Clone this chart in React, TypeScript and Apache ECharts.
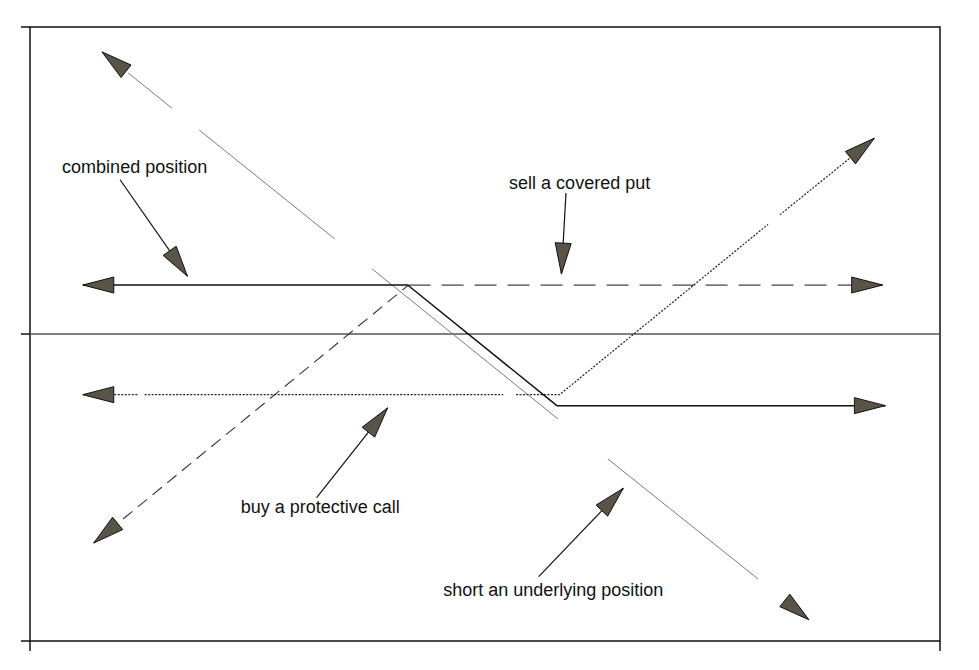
import React, { useEffect, useRef } from 'react';
import * as echarts from 'echarts';

// axis ranges (price on x, profit / loss on y)
const xRange = [0, 100];
const yRange = [-42, 42];

// payoff lines
const shortUnderlyingSegments = [
  [[10.8, 35.7], [15.6, 30.9]],
  [[18.6, 27.9], [33.5, 13.0]],
  [[37.6, 8.9], [58.0, -11.6]],
  [[63.5, -17.1], [80.0, -33.5]],
];
const combinedPosition = [[5.8, 6.7], [41.5, 6.7], [57.9, -9.8], [94.0, -9.8]];
const coveredPutFlat = [[41.6, 6.7], [93.7, 6.7]];
const coveredPutSlope = [[7.0, -28.6], [41.6, 6.7]];
const protectiveCallSegments = [
  [[5.8, -8.3], [11.8, -8.3]],
  [[12.6, -8.3], [52.0, -8.3]],
  [[53.4, -8.3], [58.2, -8.3], [81.1, 15.0]],
  [[82.4, 16.3], [92.8, 26.8]],
];
const zeroLine = [[0, 0], [100, 0]];

// arrow heads: [tipX, tipY, fromX, fromY]
const lineArrowHeads = [
  [7.9, 38.6, 10.8, 35.7],
  [85.6, -39.1, 80.0, -33.5],
  [5.8, 6.7, 41.5, 6.7],
  [94.0, -9.8, 57.9, -9.8],
  [93.7, 6.7, 41.6, 6.7],
  [7.0, -28.6, 41.6, 6.7],
  [5.8, -8.3, 58.2, -8.3],
  [92.8, 26.8, 58.2, -8.3],
];

// annotations
const labels = ['combined position', 'sell a covered put', 'buy a protective call', 'short an underlying position'];
const labelPos = [[11.5, 22.9], [60.4, 20.7], [31.9, -23.7], [57.5, -35.0]];
const pointerFrom = [[9.9, 21.1], [58.9, 19.3], [31.5, -22.4], [55.9, -33.2]];
const pointerTip = [[17.3, 7.9], [58.4, 8.2], [39.3, -10.1], [65.2, -21.1]];

const FONT = '"Liberation Sans", Arial, Helvetica, sans-serif';

function lineSeries(data: number[][], style: any, z = 3) {
  return {
    type: 'line',
    data,
    symbol: 'none',
    showSymbol: false,
    silent: true,
    animation: false,
    z,
    lineStyle: style,
  };
}

export default function App() {
  const ref = useRef<HTMLDivElement>(null);

  useEffect(() => {
    if (!ref.current) return;
    const chart = echarts.init(ref.current, null, { renderer: 'svg' });

    const shortStyle = { color: '#7a7a7a', width: 1 };
    const combinedStyle = { color: '#111', width: 1.5 };
    const putFlatStyle = { color: '#444', width: 1.3, type: [22, 11] };
    const putSlopeStyle = { color: '#333', width: 1.1, type: [12, 7] };
    const callStyle = { color: '#222', width: 1.2, type: [2, 1.5] };
    const pointerStyle = { color: '#111', width: 1.2 };

    const series: any[] = [];
    series.push(lineSeries(zeroLine, { color: '#555', width: 1.3 }, 2));
    shortUnderlyingSegments.forEach((s) => series.push(lineSeries(s, shortStyle)));
    series.push(lineSeries(combinedPosition, combinedStyle, 4));
    series.push(lineSeries(coveredPutFlat, putFlatStyle));
    series.push(lineSeries(coveredPutSlope, putSlopeStyle));
    protectiveCallSegments.forEach((s) => series.push(lineSeries(s, callStyle)));
    pointerFrom.forEach((f, i) => series.push(lineSeries([f, pointerTip[i]], pointerStyle)));

    const arrowData = [
      ...lineArrowHeads,
      ...pointerTip.map((t, i) => [t[0], t[1], pointerFrom[i][0], pointerFrom[i][1]]),
    ];

    series.push({
      type: 'custom',
      silent: true,
      clip: false,
      z: 10,
      data: arrowData,
      renderItem: (params: any, api: any) => {
        const tip = api.coord([api.value(0), api.value(1)]);
        const from = api.coord([api.value(2), api.value(3)]);
        const dx = tip[0] - from[0];
        const dy = tip[1] - from[1];
        const len = Math.hypot(dx, dy) || 1;
        const ux = dx / len;
        const uy = dy / len;
        const L = 31;
        const W = 16;
        const bx = tip[0] - ux * L;
        const by = tip[1] - uy * L;
        const nx = -uy * W / 2;
        const ny = ux * W / 2;
        return {
          type: 'polygon',
          shape: { points: [tip, [bx + nx, by + ny], [bx - nx, by - ny]] },
          style: { fill: '#5a5348', stroke: '#111', lineWidth: 1 },
        };
      },
    });

    series.push({
      type: 'custom',
      silent: true,
      clip: false,
      z: 11,
      data: labelPos,
      renderItem: (params: any, api: any) => {
        const p = api.coord([api.value(0), api.value(1)]);
        return {
          type: 'text',
          x: p[0],
          y: p[1],
          style: {
            text: labels[params.dataIndex],
            fontSize: 18,
            fontFamily: FONT,
            fill: '#111',
            align: 'center',
            verticalAlign: 'middle',
          },
        };
      },
    });

    chart.setOption({
      animation: false,
      backgroundColor: '#ffffff',
      grid: {
        left: 30,
        right: 39,
        top: 27,
        bottom: 29,
        show: true,
        borderColor: '#111',
        borderWidth: 1.5,
        backgroundColor: 'transparent',
      },
      xAxis: {
        type: 'value',
        min: xRange[0],
        max: xRange[1],
        interval: 100,
        axisLine: { show: false, onZero: false },
        axisTick: { show: true, length: 10, lineStyle: { color: '#111', width: 1.5 } },
        axisLabel: { show: false },
        splitLine: { show: false },
      },
      yAxis: {
        type: 'value',
        min: yRange[0],
        max: yRange[1],
        interval: 42,
        axisLine: { show: false, onZero: false },
        axisTick: { show: true, length: 9, lineStyle: { color: '#111', width: 1.5 } },
        axisLabel: { show: false },
        splitLine: { show: false },
      },
      series,
    });

    return () => chart.dispose();
  }, []);

  return (
    <div
      ref={ref}
      style={{ position: 'fixed', left: 0, top: 0, width: 979, height: 670, background: '#fff' }}
    />
  );
}
